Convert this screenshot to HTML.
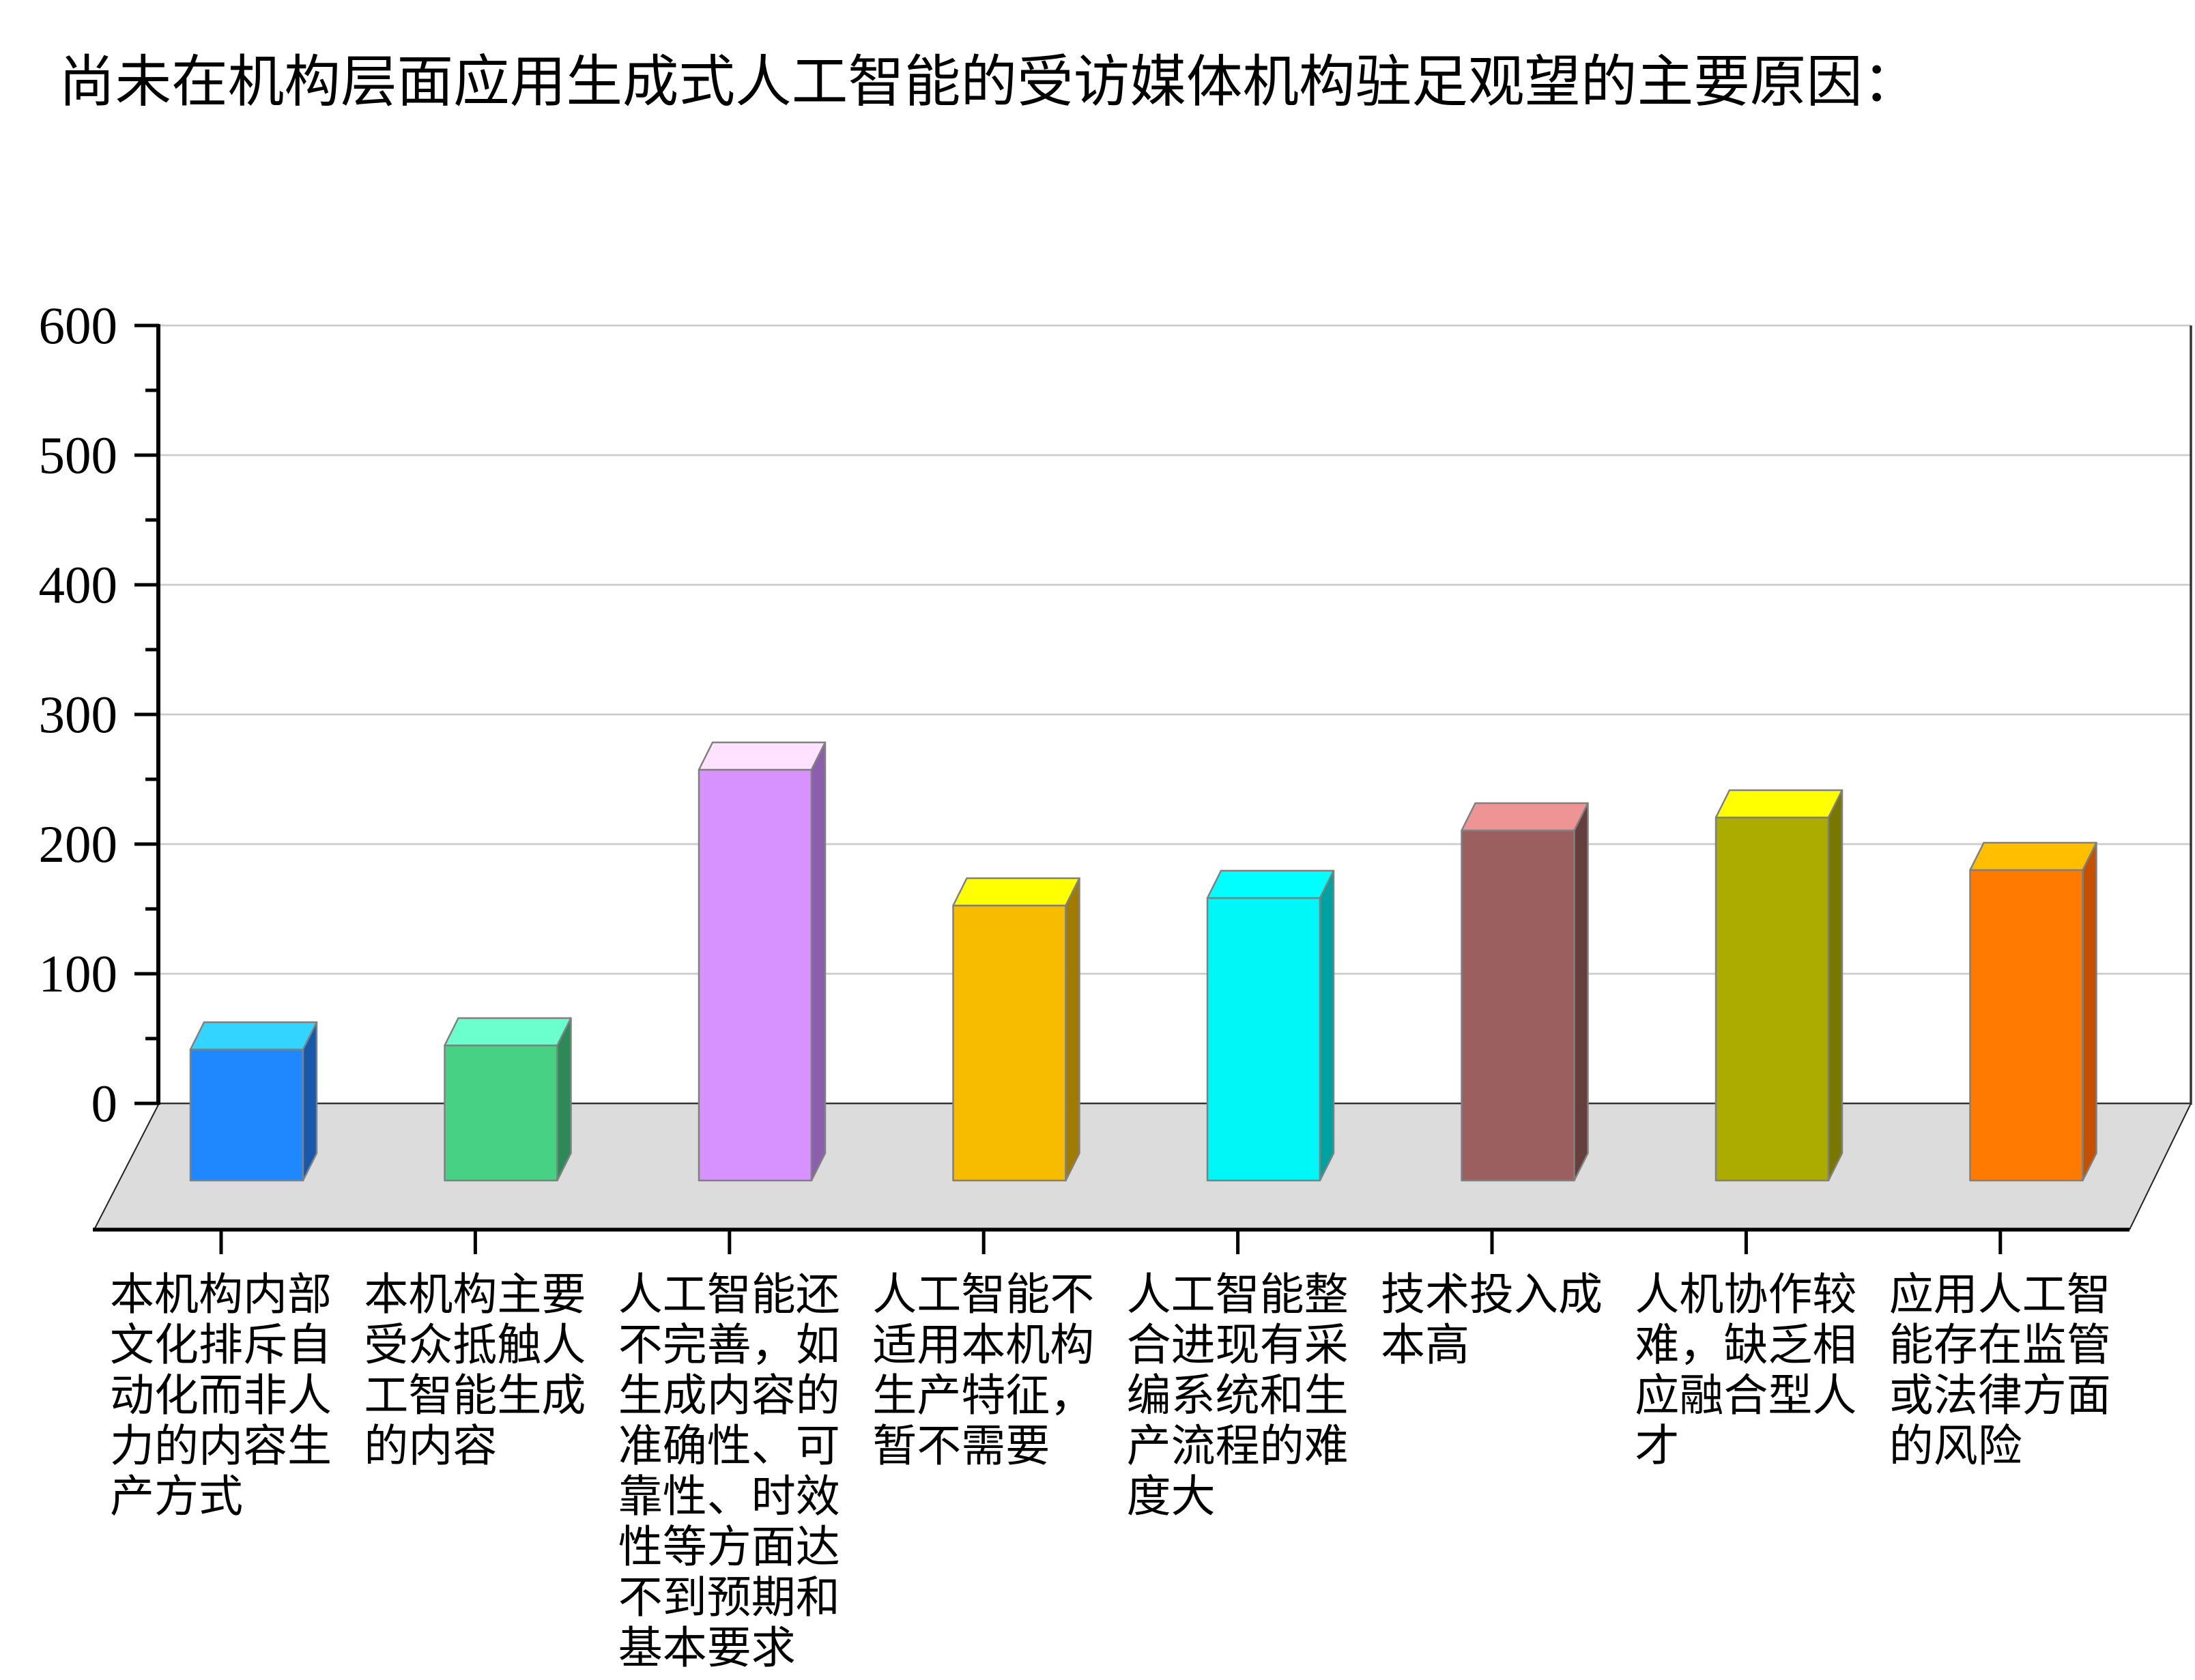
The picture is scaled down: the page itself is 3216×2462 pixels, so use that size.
<!DOCTYPE html>
<html>
<head>
<meta charset="utf-8">
<style>
  html, body { margin:0; padding:0; background:#ffffff; }
  body { width:3216px; height:2462px; overflow:hidden; }
  svg { display:block; }
  .cjk { font-family: "Liberation Sans", "Noto Sans CJK SC", "WenQuanYi Zen Hei", sans-serif; fill:#000; }
  .num { font-family: "Liberation Serif", "DejaVu Serif", serif; fill:#000; }
</style>
</head>
<body>
<svg width="3216" height="2462" viewBox="0 0 3216 2462" xmlns="http://www.w3.org/2000/svg">
  <rect x="0" y="0" width="3216" height="2462" fill="#ffffff"/>

  <!-- Title -->
  <text class="cjk" x="86" y="148" font-size="82.6">尚未在机构层面应用生成式人工智能的受访媒体机构驻足观望的主要原因：</text>

  <!-- Floor -->
  <polygon points="233,1617 3210,1617 3120,1802 138,1802" fill="#dcdcdc" stroke="none"/>
  <line x1="233" y1="1617" x2="138" y2="1802" stroke="#222" stroke-width="2"/>
  <line x1="3210" y1="1617" x2="3120" y2="1802" stroke="#222" stroke-width="2"/>
  <line x1="233" y1="1617" x2="3210" y2="1617" stroke="#333" stroke-width="2.5"/>
  <line x1="136" y1="1802" x2="3120" y2="1802" stroke="#000" stroke-width="5.5"/>

  <!-- Gridlines -->
  <g stroke="#cccccc" stroke-width="2.7">
    <line x1="233" y1="477" x2="3210" y2="477"/>
    <line x1="233" y1="667" x2="3210" y2="667"/>
    <line x1="233" y1="857" x2="3210" y2="857"/>
    <line x1="233" y1="1047" x2="3210" y2="1047"/>
    <line x1="233" y1="1237" x2="3210" y2="1237"/>
    <line x1="233" y1="1427" x2="3210" y2="1427"/>
  </g>

  <!-- Right wall edge -->
  <line x1="3210" y1="477" x2="3210" y2="1619" stroke="#333" stroke-width="3.5"/>

  <!-- Bars -->
  <g stroke="#808080" stroke-width="2.5" stroke-linejoin="round">
    <rect x="279" y="1538" width="165" height="192" fill="#2088ff"/>
    <polygon points="279,1538 299,1498 464,1498 444,1538" fill="#33d4ff"/>
    <polygon points="444,1538 464,1498 464,1690 444,1730" fill="#1858ab"/>

    <rect x="651.5" y="1532" width="165" height="198" fill="#46d184"/>
    <polygon points="651.5,1532 671.5,1492 836.5,1492 816.5,1532" fill="#6affcc"/>
    <polygon points="816.5,1532 836.5,1492 836.5,1690 816.5,1730" fill="#2d8957"/>

    <rect x="1024" y="1128" width="165" height="602" fill="#d792ff"/>
    <polygon points="1024,1128 1044,1088 1209,1088 1189,1128" fill="#ffe2ff"/>
    <polygon points="1189,1128 1209,1088 1209,1690 1189,1730" fill="#8c5fae"/>

    <rect x="1396.5" y="1327" width="165" height="403" fill="#f7bb00"/>
    <polygon points="1396.5,1327 1416.5,1287 1581.5,1287 1561.5,1327" fill="#ffff00"/>
    <polygon points="1561.5,1327 1581.5,1287 1581.5,1690 1561.5,1730" fill="#a07b00"/>

    <rect x="1769" y="1316" width="165" height="414" fill="#00f7f7"/>
    <polygon points="1769,1316 1789,1276 1954,1276 1934,1316" fill="#00ffff"/>
    <polygon points="1934,1316 1954,1276 1954,1690 1934,1730" fill="#00a1a1"/>

    <rect x="2141.5" y="1217" width="165" height="513" fill="#9a5f5e"/>
    <polygon points="2141.5,1217 2161.5,1177 2326.5,1177 2306.5,1217" fill="#ee9494"/>
    <polygon points="2306.5,1217 2326.5,1177 2326.5,1690 2306.5,1730" fill="#653e3e"/>

    <rect x="2514" y="1198" width="165" height="532" fill="#abab00"/>
    <polygon points="2514,1198 2534,1158 2699,1158 2679,1198" fill="#ffff00"/>
    <polygon points="2679,1198 2699,1158 2699,1690 2679,1730" fill="#787800"/>

    <rect x="2886.5" y="1275" width="165" height="455" fill="#ff7a00"/>
    <polygon points="2886.5,1275 2906.5,1235 3071.5,1235 3051.5,1275" fill="#ffbf00"/>
    <polygon points="3051.5,1275 3071.5,1235 3071.5,1690 3051.5,1730" fill="#c45000"/>
  </g>

  <!-- Y axis -->
  <line x1="232" y1="475" x2="232" y2="1619" stroke="#000" stroke-width="6"/>
  <g stroke="#000" stroke-width="5">
    <line x1="197" y1="477" x2="233" y2="477"/>
    <line x1="197" y1="667" x2="233" y2="667"/>
    <line x1="197" y1="857" x2="233" y2="857"/>
    <line x1="197" y1="1047" x2="233" y2="1047"/>
    <line x1="197" y1="1237" x2="233" y2="1237"/>
    <line x1="197" y1="1427" x2="233" y2="1427"/>
    <line x1="197" y1="1617" x2="233" y2="1617"/>
    <line x1="213" y1="572" x2="233" y2="572"/>
    <line x1="213" y1="762" x2="233" y2="762"/>
    <line x1="213" y1="952" x2="233" y2="952"/>
    <line x1="213" y1="1142" x2="233" y2="1142"/>
    <line x1="213" y1="1332" x2="233" y2="1332"/>
    <line x1="213" y1="1522" x2="233" y2="1522"/>
  </g>

  <!-- Y labels -->
  <g class="num" font-size="77" text-anchor="end">
    <text x="172" y="503">600</text>
    <text x="172" y="693">500</text>
    <text x="172" y="883">400</text>
    <text x="172" y="1073">300</text>
    <text x="172" y="1263">200</text>
    <text x="172" y="1453">100</text>
    <text x="172" y="1643">0</text>
  </g>

  <!-- X ticks -->
  <g stroke="#000" stroke-width="5">
    <line x1="324" y1="1802" x2="324" y2="1838"/>
    <line x1="696.4" y1="1802" x2="696.4" y2="1838"/>
    <line x1="1068.8" y1="1802" x2="1068.8" y2="1838"/>
    <line x1="1441.2" y1="1802" x2="1441.2" y2="1838"/>
    <line x1="1813.6" y1="1802" x2="1813.6" y2="1838"/>
    <line x1="2186" y1="1802" x2="2186" y2="1838"/>
    <line x1="2558.4" y1="1802" x2="2558.4" y2="1838"/>
    <line x1="2930.8" y1="1802" x2="2930.8" y2="1838"/>
  </g>

  <!-- X labels -->
  <g class="cjk" font-size="65">
    <text x="161" y="1919">本机构内部</text>
    <text x="161" y="1993">文化排斥自</text>
    <text x="161" y="2067">动化而非人</text>
    <text x="161" y="2141">力的内容生</text>
    <text x="161" y="2215">产方式</text>

    <text x="533.4" y="1919">本机构主要</text>
    <text x="533.4" y="1993">受众抵触人</text>
    <text x="533.4" y="2067">工智能生成</text>
    <text x="533.4" y="2141">的内容</text>

    <text x="905.8" y="1919">人工智能还</text>
    <text x="905.8" y="1993">不完善，如</text>
    <text x="905.8" y="2067">生成内容的</text>
    <text x="905.8" y="2141">准确性、可</text>
    <text x="905.8" y="2215">靠性、时效</text>
    <text x="905.8" y="2289">性等方面达</text>
    <text x="905.8" y="2363">不到预期和</text>
    <text x="905.8" y="2437">基本要求</text>

    <text x="1278.2" y="1919">人工智能不</text>
    <text x="1278.2" y="1993">适用本机构</text>
    <text x="1278.2" y="2067">生产特征，</text>
    <text x="1278.2" y="2141">暂不需要</text>

    <text x="1650.6" y="1919">人工智能整</text>
    <text x="1650.6" y="1993">合进现有采</text>
    <text x="1650.6" y="2067">编系统和生</text>
    <text x="1650.6" y="2141">产流程的难</text>
    <text x="1650.6" y="2215">度大</text>

    <text x="2023" y="1919">技术投入成</text>
    <text x="2023" y="1993">本高</text>

    <text x="2395.4" y="1919">人机协作较</text>
    <text x="2395.4" y="1993">难，缺乏相</text>
    <text x="2395.4" y="2067">应融合型人</text>
    <text x="2395.4" y="2141">才</text>

    <text x="2767.8" y="1919">应用人工智</text>
    <text x="2767.8" y="1993">能存在监管</text>
    <text x="2767.8" y="2067">或法律方面</text>
    <text x="2767.8" y="2141">的风险</text>
  </g>
</svg>
</body>
</html>
